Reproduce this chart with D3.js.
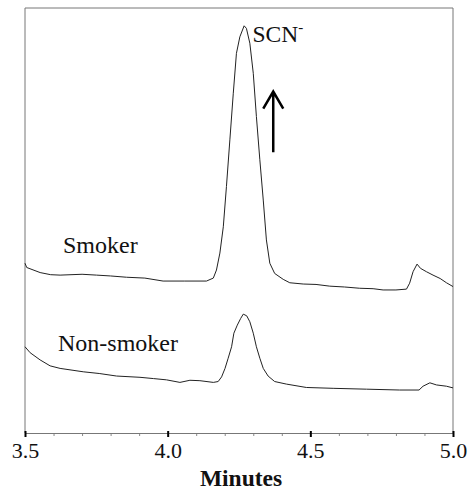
<!DOCTYPE html>
<html>
<head>
<meta charset="utf-8">
<script src="https://cdn.jsdelivr.net/npm/d3@7"></script>
<style>
  html, body { margin: 0; padding: 0; background: #fff; }
  svg text { font-family: "Liberation Serif", "Times New Roman", serif; fill: #111; }
</style>
</head>
<body>
<svg id="chart" width="468" height="493"></svg>
<script>
// Retention time (min) and detector response (arbitrary units) for each trace
const smokerTime = [3.500, 3.506, 3.553, 3.590, 3.623, 3.700, 3.751, 3.800, 3.856, 3.920, 3.984, 4.060, 4.136, 4.160, 4.171, 4.183, 4.195, 4.206, 4.218, 4.230, 4.241, 4.253, 4.268, 4.276, 4.288, 4.300, 4.311, 4.323, 4.335, 4.346, 4.358, 4.375, 4.405, 4.428, 4.475, 4.520, 4.568, 4.620, 4.673, 4.720, 4.755, 4.800, 4.837, 4.848, 4.860, 4.874, 4.886, 4.907, 4.930, 4.955, 4.977, 5.000];
const smokerSignal = [39.8, 38.8, 37.6, 37.1, 37.0, 37.2, 37.0, 36.8, 36.5, 36.3, 35.6, 35.6, 35.6, 36.3, 38.2, 42.2, 48.4, 57.9, 68.9, 79.9, 89.3, 93.2, 95.8, 95.2, 91.7, 84.6, 74.4, 64.2, 54.7, 45.3, 39.8, 37.4, 36.0, 35.2, 34.9, 34.8, 34.4, 34.2, 33.9, 33.8, 33.5, 33.5, 33.7, 35.1, 37.8, 39.6, 38.6, 37.8, 37.0, 36.2, 35.2, 34.3];

const nonSmokerTime = [3.500, 3.518, 3.553, 3.588, 3.623, 3.704, 3.760, 3.821, 3.903, 3.950, 3.996, 4.043, 4.078, 4.113, 4.160, 4.177, 4.189, 4.201, 4.212, 4.224, 4.232, 4.244, 4.256, 4.265, 4.277, 4.288, 4.300, 4.311, 4.323, 4.335, 4.352, 4.375, 4.416, 4.486, 4.580, 4.697, 4.813, 4.881, 4.895, 4.919, 4.942, 4.977, 5.000];
const nonSmokerSignal = [20.1, 18.7, 17.0, 15.6, 15.0, 14.2, 13.8, 13.2, 12.9, 12.6, 12.3, 11.7, 12.2, 12.1, 11.7, 11.9, 13.0, 15.0, 17.4, 20.1, 23.3, 25.2, 26.8, 27.8, 27.4, 26.0, 23.3, 20.1, 17.4, 15.0, 13.2, 11.9, 11.3, 10.5, 10.3, 10.1, 9.9, 9.9, 10.8, 11.6, 11.1, 10.8, 10.4];

const majorTicks = [3.5, 4.0, 4.5, 5.0];
const minorTicks = [3.6, 3.7, 3.8, 3.9, 4.1, 4.2, 4.3, 4.4, 4.6, 4.7, 4.8, 4.9];
const traceLabels = ["Smoker", "Non-smoker"];
const peakLabel = "SCN";
const xTitle = "Minutes";

const svg = d3.select("#chart");
const plotLeft = 25, plotRight = 453, plotTop = 8, plotBottom = 433;

const x = d3.scaleLinear().domain([3.5, 5.0]).range([plotLeft, plotRight]);
const y = d3.scaleLinear().domain([0, 100]).range([432, 8]);

// Plot frame (left, top, right); bottom edge is the axis line
svg.append("path")
  .attr("d", `M${plotLeft},${plotBottom}V${plotTop}H${plotRight}V${plotBottom}`)
  .attr("fill", "none")
  .attr("stroke", "#777")
  .attr("stroke-width", 1);

// Traces
const line = d3.line().x(d => x(d[0])).y(d => y(d[1]));
const traces = [
  d3.zip(smokerTime, smokerSignal),
  d3.zip(nonSmokerTime, nonSmokerSignal)
];
svg.selectAll("path.trace")
  .data(traces)
  .join("path")
  .attr("class", "trace")
  .attr("d", line)
  .attr("fill", "none")
  .attr("stroke", "#222")
  .attr("stroke-width", 1)
  .attr("stroke-linejoin", "round");

// Minor ticks
const minorAxis = svg.append("g")
  .attr("transform", `translate(0,${plotBottom})`)
  .call(d3.axisBottom(x).tickValues(minorTicks).tickSize(3).tickFormat(""));
minorAxis.select(".domain").remove();
minorAxis.selectAll(".tick line").attr("stroke", "#888").attr("stroke-width", 1);

// Major ticks with labels
const majorAxis = svg.append("g")
  .attr("transform", `translate(0,${plotBottom})`)
  .call(d3.axisBottom(x).tickValues(majorTicks).tickSize(4).tickSizeOuter(0).tickFormat(d3.format(".1f")));
majorAxis.select(".domain").attr("stroke", "#777").attr("stroke-width", 1);
majorAxis.selectAll(".tick line")
  .attr("y1", -2).attr("y2", 4)
  .attr("stroke", "#000").attr("stroke-width", 2);
majorAxis.selectAll(".tick text")
  .attr("y", 25).attr("dy", null)
  .attr("font-size", 22)
  .attr("font-family", "Liberation Serif, Times New Roman, serif")
  .attr("fill", "#111");

// Axis title
svg.append("text")
  .attr("x", (plotLeft + plotRight) / 2 + 2)
  .attr("y", 486)
  .attr("text-anchor", "middle")
  .attr("font-size", 23.5)
  .attr("font-weight", "bold")
  .text(xTitle);

// Trace labels
svg.append("text").attr("x", 63).attr("y", 253).attr("font-size", 24).text(traceLabels[0]);
svg.append("text").attr("x", 58).attr("y", 351).attr("font-size", 24).text(traceLabels[1]);

// Peak label with superscript charge
const scn = svg.append("text").attr("x", 252.5).attr("y", 41.5).attr("font-size", 23.5);
scn.append("tspan").text(peakLabel);
scn.append("tspan").attr("font-size", 15).attr("dy", -10).text("-");

// Arrow pointing upward beside the peak
const ax = x(4.37), yTip = y(80.3), yTail = y(66.0);
svg.append("path")
  .attr("d", `M${ax},${yTail}V${yTip}M${ax - 10},${yTip + 17}L${ax},${yTip}L${ax + 10},${yTip + 17}`)
  .attr("fill", "none")
  .attr("stroke", "#000")
  .attr("stroke-width", 2.5);
</script>
</body>
</html>
